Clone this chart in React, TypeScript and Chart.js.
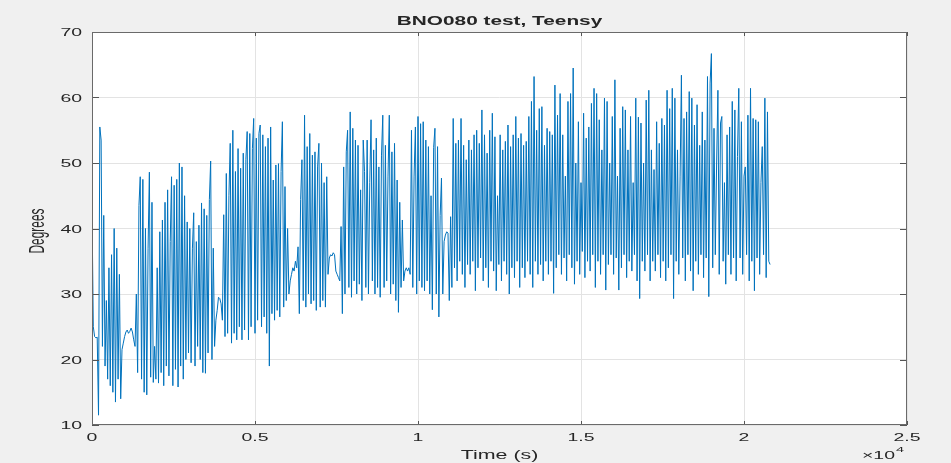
import React, { useEffect, useRef } from "react";
import { Chart, registerables } from "chart.js";

Chart.register(...registerables);

// ---- text ----
const TITLE = "BNO080 test, Teensy";
const X_LABEL = "Time (s)";
const Y_LABEL = "Degrees";
const X_EXPONENT_BASE = "\u00d710";
const X_EXPONENT_POWER = "4";

// ---- ticks ----
const X_TICKS = [0, 5000, 10000, 15000, 20000, 25000];
const X_TICK_LABELS = ["0", "0.5", "1", "1.5", "2", "2.5"];
const Y_TICKS = [10, 20, 30, 40, 50, 60, 70];
const Y_TICK_LABELS = ["10", "20", "30", "40", "50", "60", "70"];

// ---- data: one sample every 40 s, degrees ----
const SAMPLE_STEP_S = 40;

const DEGREES_PART_1 = [
  43, 25, 23.5, 23.3, 23.4, 11.5, 55.5, 53.5, 22, 42,
  19, 29, 17, 34, 16, 36, 15, 40, 13.5, 37,
  17, 33, 14, 21.5, 22.5, 23.5, 24.2, 24.5, 24, 24.3,
  24.8, 24.2, 23, 22, 30, 18, 43.5, 47.9, 17, 47.5,
  15, 40, 14.6, 37, 48.6, 17.3, 44, 16.5, 22, 17,
  34, 16.4, 39.5, 18, 41.3, 16, 44, 19, 45.9, 17.5,
  38, 47.9, 16, 46.6, 18.5, 47.5, 15.8, 50, 19, 49.4,
  17, 45, 20, 41, 21, 40, 19.5, 37, 42.4, 19,
  38, 22, 40.5, 20, 43.9, 18, 43, 17.9, 42, 21,
  44.4, 50.3, 20, 37, 22, 26, 27.5, 29.5, 29.3, 28.5,
  26, 42.1, 23.5, 48.4, 24, 45, 53, 22.5, 55, 24,
  48.7, 23, 52.2, 25, 49.2, 23, 51.5, 24.5, 50.5, 54.8,
  23, 54.5, 25, 52.2, 56.8, 24, 53.8, 26, 54.5, 55.8,
];

const DEGREES_PART_2 = [
  25, 54.3, 26.5, 52.5, 24, 53.8, 19, 55.5, 27, 47.4,
  26, 49.7, 27.5, 49.9, 26.5, 48.7, 56.3, 28, 46.4, 29,
  40, 30, 32, 33, 34, 33.5, 35, 34, 37.2, 27,
  44.4, 50.5, 29, 57.3, 28, 52.5, 30, 54.5, 28.5, 51.2,
  29, 51.7, 27.5, 49.4, 53, 28, 50, 29, 47, 28,
  47.9, 33, 35.5, 36, 35.8, 36.3, 36, 33.5, 33, 32.5,
  32, 40.3, 27, 49.4, 30, 51.7, 55, 31, 57.8, 29.5,
  55.3, 32, 53.5, 30, 52.7, 31.5, 45.9, 29, 53.5, 48.7,
  31, 53.5, 30, 47, 56.6, 32, 52, 30, 53.8, 31,
  49.4, 29.5, 51.2, 57.3, 31, 52.7, 32, 48, 57.3, 30,
  51.7, 31.5, 53, 29, 47.4, 27.2, 44, 31, 41.3, 32,
  33.5, 34, 33.5, 34, 33, 55, 31, 48, 55.5, 30,
  57.1, 32, 56, 31, 56.3, 30.5, 53.5, 32, 52.5, 30,
];

const DEGREES_PART_3 = [
  45, 27.6, 52.4, 55.3, 30, 52.5, 26.5, 42, 47.7, 30,
  38, 39, 39.5, 39.3, 29, 41.8, 31, 56.8, 34, 53,
  32, 53.5, 35, 56.8, 33, 52.7, 31, 50.5, 34.5, 53.5,
  33, 52, 35, 54.3, 30.5, 55, 34, 53, 35.5, 58.1,
  32, 54.3, 34, 51.5, 31, 55, 35, 57.6, 33.5, 54,
  30.5, 45, 34.5, 54.3, 32, 52, 35, 53.3, 33, 55.8,
  30, 52.5, 34, 54.3, 32.5, 57.1, 35, 53.8, 31, 54.5,
  34, 52.7, 32.5, 53.3, 35, 57.1, 33, 59.4, 31, 63.2,
  35, 55, 33, 58.3, 34.5, 58.6, 32, 52.7, 35, 55.3,
  33, 54.8, 35, 54.3, 30.1, 61.9, 34, 57.3, 36, 60.6,
  33, 54.3, 35.5, 48, 32, 59.4, 36, 60.6, 34, 64.5,
  31.5, 50, 35, 56.3, 33, 47, 36.5, 57.6, 32.5, 53.8,
  35, 55.5, 33.5, 59.1, 36, 61.4, 31, 60.6, 35, 56.6,
];

const DEGREES_PART_4 = [
  33, 52, 36, 59.9, 30.6, 59.4, 34.5, 50, 36, 57.1,
  33, 62.7, 35.5, 48, 30.6, 55.3, 34, 58.6, 36, 58.1,
  32.5, 52, 35, 57.1, 33.5, 47, 36, 59.9, 32, 57,
  29.3, 56.1, 35, 50, 33.5, 59.6, 36, 61.1, 32, 52,
  35, 49, 33.5, 56.3, 36, 53, 32.5, 56.8, 35, 55.8,
  32, 61.1, 34, 58.3, 36, 61.4, 29.3, 59.9, 35, 52,
  33, 48, 63.4, 35.5, 56.8, 32, 57.8, 36, 60.9, 33.5,
  59.9, 30.5, 55.8, 35, 58.9, 33, 52.7, 36, 57.8, 32.5,
  53.5, 35.5, 63.2, 29.6, 62.2, 66.7, 34, 55.3, 36, 50,
  61.1, 33, 56.1, 57.1, 35, 47, 31.5, 54.3, 36, 55.5,
  33, 59.4, 35.5, 58.1, 32, 51, 61.4, 35.5, 56.3, 33,
  48, 49.4, 36, 57.3, 32, 61.4, 35, 56.8, 30.5, 56.6,
  35.5, 56.3, 33, 47, 52.5, 36, 59.9, 32.5, 57.8, 35,
  34.5,
];

const W = 951;
const H = 463;
const FONT_FAMILY = '"Liberation Sans", Arial, Helvetica, sans-serif';
const STRETCH = 1.8;
const TEXT_COLOR = "#262626";

function stretchedText(
  ctx: CanvasRenderingContext2D,
  text: string,
  x: number,
  y: number,
  font: string,
  align: CanvasTextAlign,
  sx: number
) {
  ctx.save();
  ctx.translate(x, y);
  ctx.scale(sx, 1);
  ctx.font = font;
  ctx.textAlign = align;
  ctx.textBaseline = "alphabetic";
  ctx.fillStyle = TEXT_COLOR;
  ctx.fillText(text, 0, 0);
  ctx.restore();
}

const matlabDecor = {
  id: "matlabDecor",
  beforeDraw(chart: any) {
    const { ctx, chartArea: a, width, height } = chart;
    ctx.save();
    ctx.fillStyle = "#f0f0f0";
    ctx.fillRect(0, 0, width, height);
    ctx.fillStyle = "#ffffff";
    ctx.fillRect(a.left, a.top, a.right - a.left, a.bottom - a.top);
    ctx.restore();
  },
  afterDraw(chart: any) {
    const { ctx, chartArea: a } = chart;
    const xs = chart.scales.x;
    const ys = chart.scales.y;
    ctx.save();
    ctx.strokeStyle = "#555555";
    ctx.lineWidth = 1;
    ctx.beginPath();
    X_TICKS.forEach((v) => {
      const px = Math.round(xs.getPixelForValue(v)) + 0.5;
      ctx.moveTo(px, a.bottom);
      ctx.lineTo(px, a.bottom - 4);
      ctx.moveTo(px, a.top);
      ctx.lineTo(px, a.top + 4);
    });
    Y_TICKS.forEach((v) => {
      const py = Math.round(ys.getPixelForValue(v)) + 0.5;
      ctx.moveTo(a.left, py);
      ctx.lineTo(a.left + 7, py);
      ctx.moveTo(a.right, py);
      ctx.lineTo(a.right - 7, py);
    });
    ctx.stroke();
    ctx.strokeStyle = "#6a6a6a";
    ctx.strokeRect(a.left + 0.5, a.top + 0.5, a.right - a.left - 1, a.bottom - a.top - 1);
    ctx.restore();

    const axFont = `10.8px ${FONT_FAMILY}`;
    X_TICKS.forEach((v, i) => {
      stretchedText(ctx, X_TICK_LABELS[i], xs.getPixelForValue(v), a.bottom + 16, axFont, "center", STRETCH);
    });
    Y_TICKS.forEach((v, i) => {
      stretchedText(ctx, Y_TICK_LABELS[i], a.left - 10, ys.getPixelForValue(v) + 4, axFont, "right", STRETCH);
    });

    const cx = (a.left + a.right) / 2;
    stretchedText(ctx, TITLE, cx, 24.5, `bold 11.9px ${FONT_FAMILY}`, "center", 1.75);
    stretchedText(ctx, X_LABEL, cx, 459, `11.9px ${FONT_FAMILY}`, "center", STRETCH);
    stretchedText(ctx, X_EXPONENT_BASE, 862, 459, axFont, "left", STRETCH);
    stretchedText(ctx, X_EXPONENT_POWER, 896, 452, `8px ${FONT_FAMILY}`, "left", STRETCH);

    ctx.save();
    ctx.translate(44, 231);
    ctx.scale(STRETCH, 1);
    ctx.rotate(-Math.PI / 2);
    ctx.font = `11.9px ${FONT_FAMILY}`;
    ctx.textAlign = "center";
    ctx.textBaseline = "alphabetic";
    ctx.fillStyle = TEXT_COLOR;
    ctx.fillText(Y_LABEL, 0, 0);
    ctx.restore();
  },
};

export default function App() {
  const canvasRef = useRef<HTMLCanvasElement | null>(null);

  useEffect(() => {
    const canvas = canvasRef.current;
    if (!canvas) return;
    const values = [...DEGREES_PART_1, ...DEGREES_PART_2, ...DEGREES_PART_3, ...DEGREES_PART_4];
    const points = values.map((y, i) => ({ x: i * SAMPLE_STEP_S, y }));

    const chart = new Chart(canvas, {
      type: "line",
      data: {
        datasets: [
          {
            data: points,
            borderColor: "#0072BD",
            borderWidth: 1,
            pointRadius: 0,
            pointHoverRadius: 0,
            fill: false,
            tension: 0,
          },
        ],
      },
      options: {
        responsive: false,
        animation: false,
        devicePixelRatio: 1,
        events: [],
        layout: { padding: { left: 0, right: 44, top: 32, bottom: 0 } },
        plugins: {
          legend: { display: false },
          title: { display: false },
          tooltip: { enabled: false },
        },
        scales: {
          x: {
            type: "linear",
            min: 0,
            max: 25000,
            ticks: { stepSize: 5000, display: false },
            grid: { color: "#e3e3e3", drawTicks: false, lineWidth: 1 },
            border: { display: false },
            afterFit: (s: any) => {
              s.height = 38;
            },
          },
          y: {
            type: "linear",
            min: 10,
            max: 70,
            ticks: { stepSize: 10, display: false },
            grid: { color: "#e3e3e3", drawTicks: false, lineWidth: 1 },
            border: { display: false },
            afterFit: (s: any) => {
              s.width = 92;
            },
          },
        },
      },
      plugins: [matlabDecor],
    } as any);

    return () => chart.destroy();
  }, []);

  return (
    <div style={{ position: "absolute", left: 0, top: 0, width: W, height: H, background: "#f0f0f0" }}>
      <canvas ref={canvasRef} width={W} height={H} style={{ display: "block", width: W, height: H }} />
    </div>
  );
}
